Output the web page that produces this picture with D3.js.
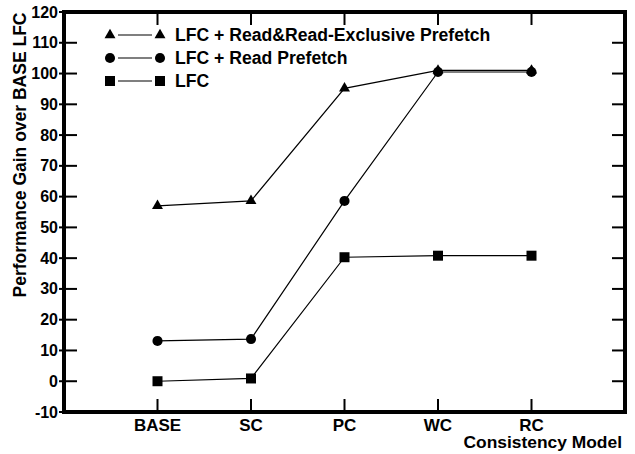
<!DOCTYPE html>
<html>
<head>
<meta charset="utf-8">
<script src="https://cdn.jsdelivr.net/npm/d3@7"></script>
<style>
  body { margin: 0; background: #fff; }
  text { font-family: "Liberation Sans", Arial, Helvetica, sans-serif; font-weight: bold; fill: #000; }
</style>
</head>
<body>
<script>
// categories on the x axis
var models = ['BASE', 'SC', 'PC', 'WC', 'RC'];
var yTicks = [-10, 0, 10, 20, 30, 40, 50, 60, 70, 80, 90, 100, 110, 120];

// series values
var seriesNames = ['LFC + Read&Read-Exclusive Prefetch', 'LFC + Read Prefetch', 'LFC'];
var rxPrefetch = [57, 58.6, 95.2, 101, 101];
var readPrefetch = [13.1, 13.7, 58.6, 100.5, 100.5];
var lfcOnly = [0, 0.9, 40.3, 40.8, 40.8];

var width = 635, height = 454;
// plot box (window.top is read-only, so no "top" here)
var plotL = 64, plotR = 625, plotT = 12, plotB = 412;

var svg = d3.select('body').append('svg')
  .attr('width', width)
  .attr('height', height);

var x = d3.scaleLinear().domain([0, models.length + 1]).range([plotL, plotR]);
var y = d3.scaleLinear().domain([-10, 120]).range([plotB, plotT]);

var series = [
  { name: seriesNames[0], values: rxPrefetch, sym: d3.symbolTriangle, size: 52 },
  { name: seriesNames[1], values: readPrefetch, sym: d3.symbolCircle, size: 80 },
  { name: seriesNames[2], values: lfcOnly, sym: d3.symbolSquare, size: 100 }
];

// ticks (inside, mirrored on all sides)
var ticks = svg.append('g').attr('stroke', '#000').attr('stroke-width', 2);
yTicks.forEach(function(v) {
  ticks.append('line').attr('x1', plotL - 5).attr('x2', plotL + 13).attr('y1', y(v)).attr('y2', y(v));
  ticks.append('line').attr('x1', plotR - 13).attr('x2', plotR).attr('y1', y(v)).attr('y2', y(v));
});
models.forEach(function(m, i) {
  ticks.append('line').attr('x1', x(i + 1)).attr('x2', x(i + 1)).attr('y1', plotB).attr('y2', plotB - 13);
  ticks.append('line').attr('x1', x(i + 1)).attr('x2', x(i + 1)).attr('y1', plotT).attr('y2', plotT + 13);
});

// frame
svg.append('rect')
  .attr('x', plotL).attr('y', plotT)
  .attr('width', plotR - plotL).attr('height', plotB - plotT)
  .attr('fill', 'none').attr('stroke', '#000').attr('stroke-width', 4);

// tick labels
svg.append('g').selectAll('text')
  .data(yTicks).enter().append('text')
  .attr('x', plotL - 6)
  .attr('y', function(d) { return y(d) + 5.5; })
  .attr('text-anchor', 'end')
  .attr('font-size', 16)
  .text(function(d) { return d; });

svg.append('g').selectAll('text')
  .data(models).enter().append('text')
  .attr('x', function(d, i) { return x(i + 1); })
  .attr('y', 431)
  .attr('text-anchor', 'middle')
  .attr('font-size', 17)
  .text(function(d) { return d; });

svg.append('text')
  .attr('x', 622).attr('y', 448)
  .attr('text-anchor', 'end')
  .attr('font-size', 17.4)
  .text('Consistency Model');

svg.append('text')
  .attr('transform', 'translate(26,155) rotate(-90)')
  .attr('text-anchor', 'middle')
  .attr('font-size', 17.5)
  .text('Performance Gain over BASE LFC');

// lines + markers
var line = d3.line()
  .x(function(d, i) { return x(i + 1); })
  .y(function(d) { return y(d); });

series.forEach(function(s) {
  svg.append('path')
    .attr('d', line(s.values))
    .attr('fill', 'none')
    .attr('stroke', '#000')
    .attr('stroke-width', 1.2);
  svg.append('g').selectAll('path')
    .data(s.values).enter().append('path')
    .attr('d', d3.symbol().type(s.sym).size(s.size))
    .attr('transform', function(d, i) { return 'translate(' + x(i + 1) + ',' + y(d) + ')'; })
    .attr('fill', '#000');
});

// legend
var legendY = [35, 58, 81];
series.forEach(function(s, i) {
  var g = svg.append('g').attr('transform', 'translate(0,' + legendY[i] + ')');
  g.append('line').attr('x1', 118).attr('x2', 152).attr('y1', 0).attr('y2', 0)
    .attr('stroke', '#000').attr('stroke-width', 1.2);
  g.append('path').attr('d', d3.symbol().type(s.sym).size(s.size)).attr('transform', 'translate(110,0)');
  g.append('path').attr('d', d3.symbol().type(s.sym).size(s.size)).attr('transform', 'translate(160,0)');
  g.append('text')
    .attr('x', 175).attr('y', 6)
    .attr('font-size', 17.6)
    .text(s.name);
});
</script>
</body>
</html>
